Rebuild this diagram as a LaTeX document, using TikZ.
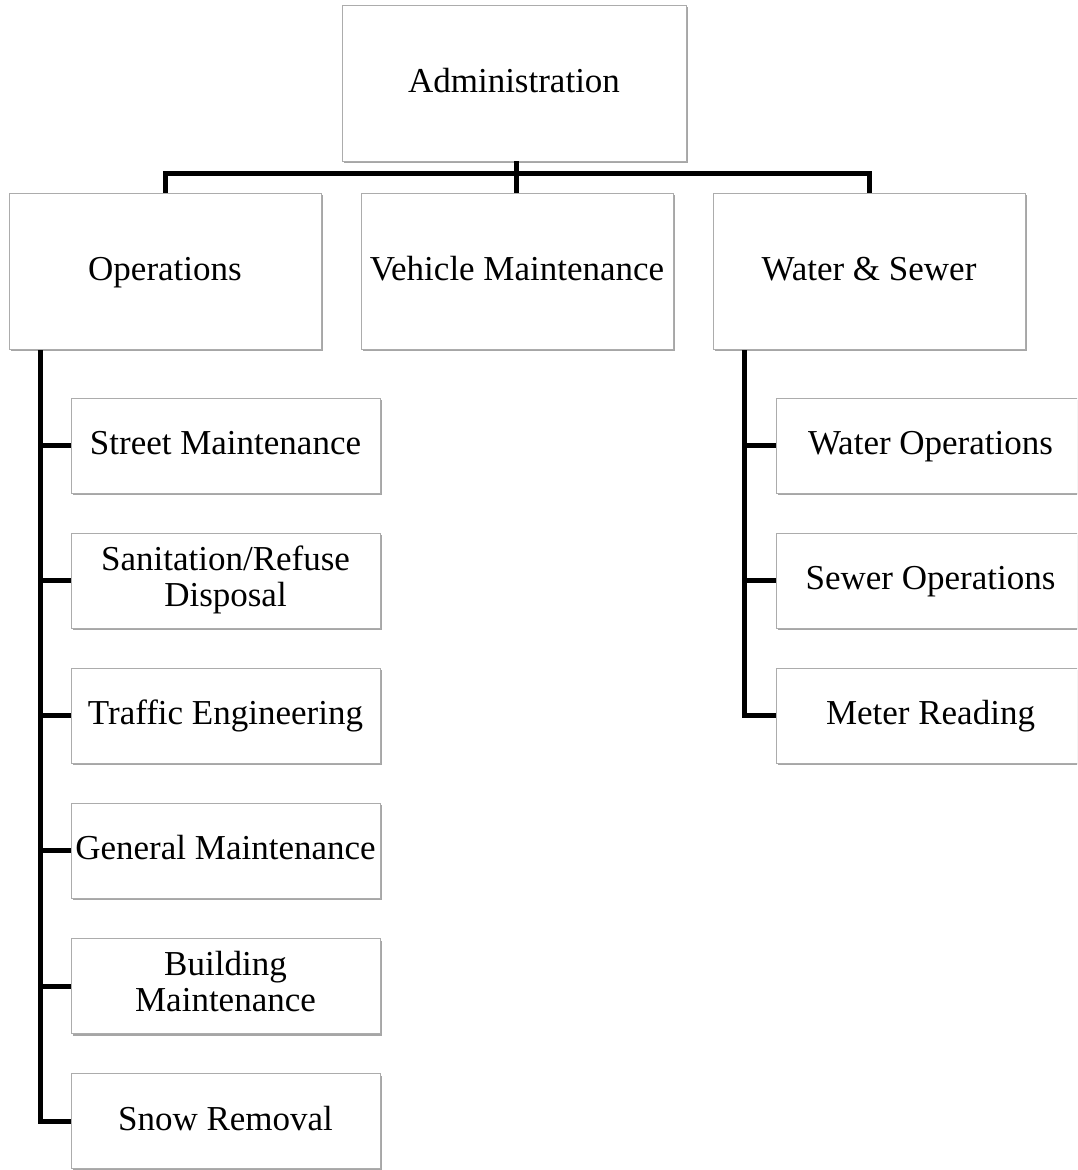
\documentclass[tikz,border=0pt]{standalone}
\usepackage{fontspec}
\setmainfont{Liberation Serif}
\usetikzlibrary{shadows}
\newcommand{\mystrut}{\rule[-9pt]{0pt}{36pt}}
\begin{document}
\begin{tikzpicture}[x=1pt,y=-1pt,
  box/.style={draw=gray!65, line width=0.9pt, fill=white, align=center,
    inner sep=0pt, font=\fontsize{35}{36}\selectfont,
    execute at begin node=\mystrut,
    drop shadow={shadow xshift=1.5pt, shadow yshift=-2pt, opacity=0.35, fill=black}},
  big/.style={box, minimum width=312pt, minimum height=156pt},
  small/.style={box, minimum width=309pt, minimum height=95pt},
  conn/.style={line width=5pt, black}]
\useasboundingbox (0,0) rectangle (1077,1170);
\clip (0,0) rectangle (1077,1170);
\node[box, minimum width=344pt, minimum height=156pt] (adm) at (514,83) {Administration};
\node[big] (ops) at (165,271) {Operations};
\node[big] (veh) at (517,271) {Vehicle Maintenance};
\node[big] (ws) at (869,271) {Water \& Sewer};
\node[small] (st) at (225.5,445.5) {Street Maintenance};
\node[small] (san) at (225.5,580.5) {Sanitation/Refuse\\Disposal\mystrut};
\node[small] (tr) at (225.5,715.5) {Traffic Engineering};
\node[small] (gen) at (225.5,850.5) {General Maintenance};
\node[small] (bld) at (225.5,986) {Building\\Maintenance\mystrut};
\node[small] (snow) at (225.5,1121) {Snow Removal};
\node[small] (wo) at (930.5,445.5) {Water Operations};
\node[small] (so) at (930.5,580.5) {Sewer Operations};
\node[small] (mr) at (930.5,715.5) {Meter Reading};
\coordinate (bus) at (516,173);
\draw[conn] (adm.south -| bus) -- (bus);
\draw[conn] (ops.north) |- (bus) -| (ws.north);
\draw[conn] (bus) -- (veh.north -| bus);
\coordinate (ol) at (40,350);
\draw[conn] (ol) |- (snow.west);
\foreach \c in {st,san,tr,gen,bld} \draw[conn] (ol |- \c.west) -- (\c.west);
\coordinate (wl) at (744,350);
\draw[conn] (wl) |- (mr.west);
\foreach \c in {wo,so} \draw[conn] (wl |- \c.west) -- (\c.west);
\end{tikzpicture}
\end{document}
